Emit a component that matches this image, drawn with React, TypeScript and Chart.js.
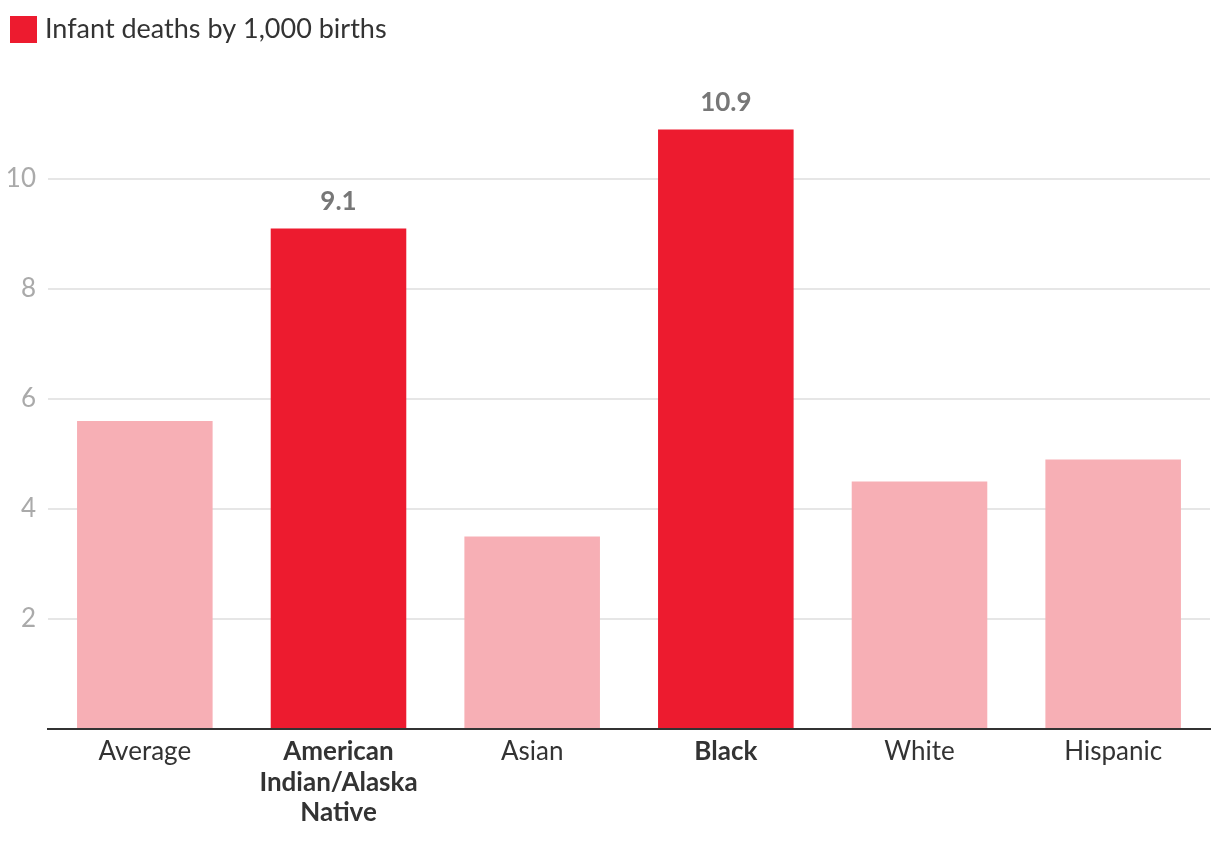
import React, { useEffect, useRef } from "react";
import { Chart, registerables } from "chart.js";

Chart.register(...registerables);

const categories: (string | string[])[] = [
  "Average",
  ["American", "Indian/Alaska", "Native"],
  "Asian",
  "Black",
  "White",
  "Hispanic",
];
const values: number[] = [5.6, 9.1, 3.5, 10.9, 4.5, 4.9];
const highlighted: boolean[] = [false, true, false, true, false, false];
const yTicks: number[] = [0, 2, 4, 6, 8, 10];
const legendLabel = "Infant deaths by 1,000 births";

const RED = "#ED1B2F";
const PINK = "#F7AFB5";
const FONT = "Lato, 'Open Sans', sans-serif";

const Y_MAX = 11.6;

const legendPlugin = {
  id: "customLegend",
  afterDraw(chart: any) {
    const ctx = chart.ctx;
    ctx.save();
    ctx.fillStyle = RED;
    ctx.fillRect(10, 16, 27, 27);
    ctx.fillStyle = "#333333";
    ctx.font = `27px ${FONT}`;
    ctx.textAlign = "left";
    ctx.textBaseline = "middle";
    ctx.fillText(legendLabel, 45, 29);
    ctx.restore();
  },
};

const valueLabelPlugin = {
  id: "valueLabels",
  afterDatasetsDraw(chart: any) {
    const ctx = chart.ctx;
    const meta = chart.getDatasetMeta(0);
    ctx.save();
    ctx.fillStyle = "#777777";
    ctx.font = `bold 26px ${FONT}`;
    ctx.textAlign = "center";
    ctx.textBaseline = "middle";
    meta.data.forEach((bar: any, i: number) => {
      if (!highlighted[i]) return;
      ctx.fillText(String(values[i]), bar.x, bar.y - 27);
    });
    ctx.restore();
  },
};

export default function App() {
  const ref = useRef<HTMLCanvasElement>(null);
  useEffect(() => {
    if (!ref.current) return;
    const chart = new Chart(ref.current, {
      type: "bar",
      data: {
        labels: categories,
        datasets: [
          {
            label: legendLabel,
            data: values,
            backgroundColor: highlighted.map((h) => (h ? RED : PINK)),
            borderWidth: 0,
            categoryPercentage: 1,
            barPercentage: 0.7,
          },
        ],
      },
      options: {
        animation: false,
        responsive: false,
        maintainAspectRatio: false,
        layout: { padding: { top: 729 - 55 * Y_MAX, right: 10, left: 0, bottom: 0 } },
        plugins: {
          legend: { display: false },
          tooltip: { enabled: false },
        },
        scales: {
          x: {
            grid: { display: false, drawTicks: false },
            border: { display: true, color: "#333333", width: 2 },
            ticks: {
              padding: 8,
              maxRotation: 0,
              autoSkip: false,
              color: "#333333",
              font: (c: any) => ({
                family: FONT,
                size: 26,
                weight: highlighted[c.index] ? "bold" : "normal",
                lineHeight: 1.16,
              }),
            },
            afterFit: (scale: any) => {
              scale.height = 119;
            },
          },
          y: {
            min: 0,
            max: Y_MAX,
            border: { display: false },
            grid: { color: "#e6e6e6", lineWidth: 2, drawTicks: false },
            afterBuildTicks: (scale: any) => {
              scale.ticks = yTicks.map((v) => ({ value: v }));
            },
            ticks: {
              padding: 12,
              color: "#aaaaaa",
              font: { family: FONT, size: 26 },
              callback: (v: any) => (v === 0 ? "" : String(v)),
            },
            afterFit: (scale: any) => {
              scale.width = 48;
            },
          },
        },
      },
      plugins: [legendPlugin, valueLabelPlugin],
    });
    return () => chart.destroy();
  }, []);
  return (
    <div style={{ position: "fixed", left: 0, top: 0, width: 1220, height: 848, background: "#fff" }}>
      <canvas ref={ref} width={1220} height={848} style={{ width: 1220, height: 848, display: "block" }} />
    </div>
  );
}
